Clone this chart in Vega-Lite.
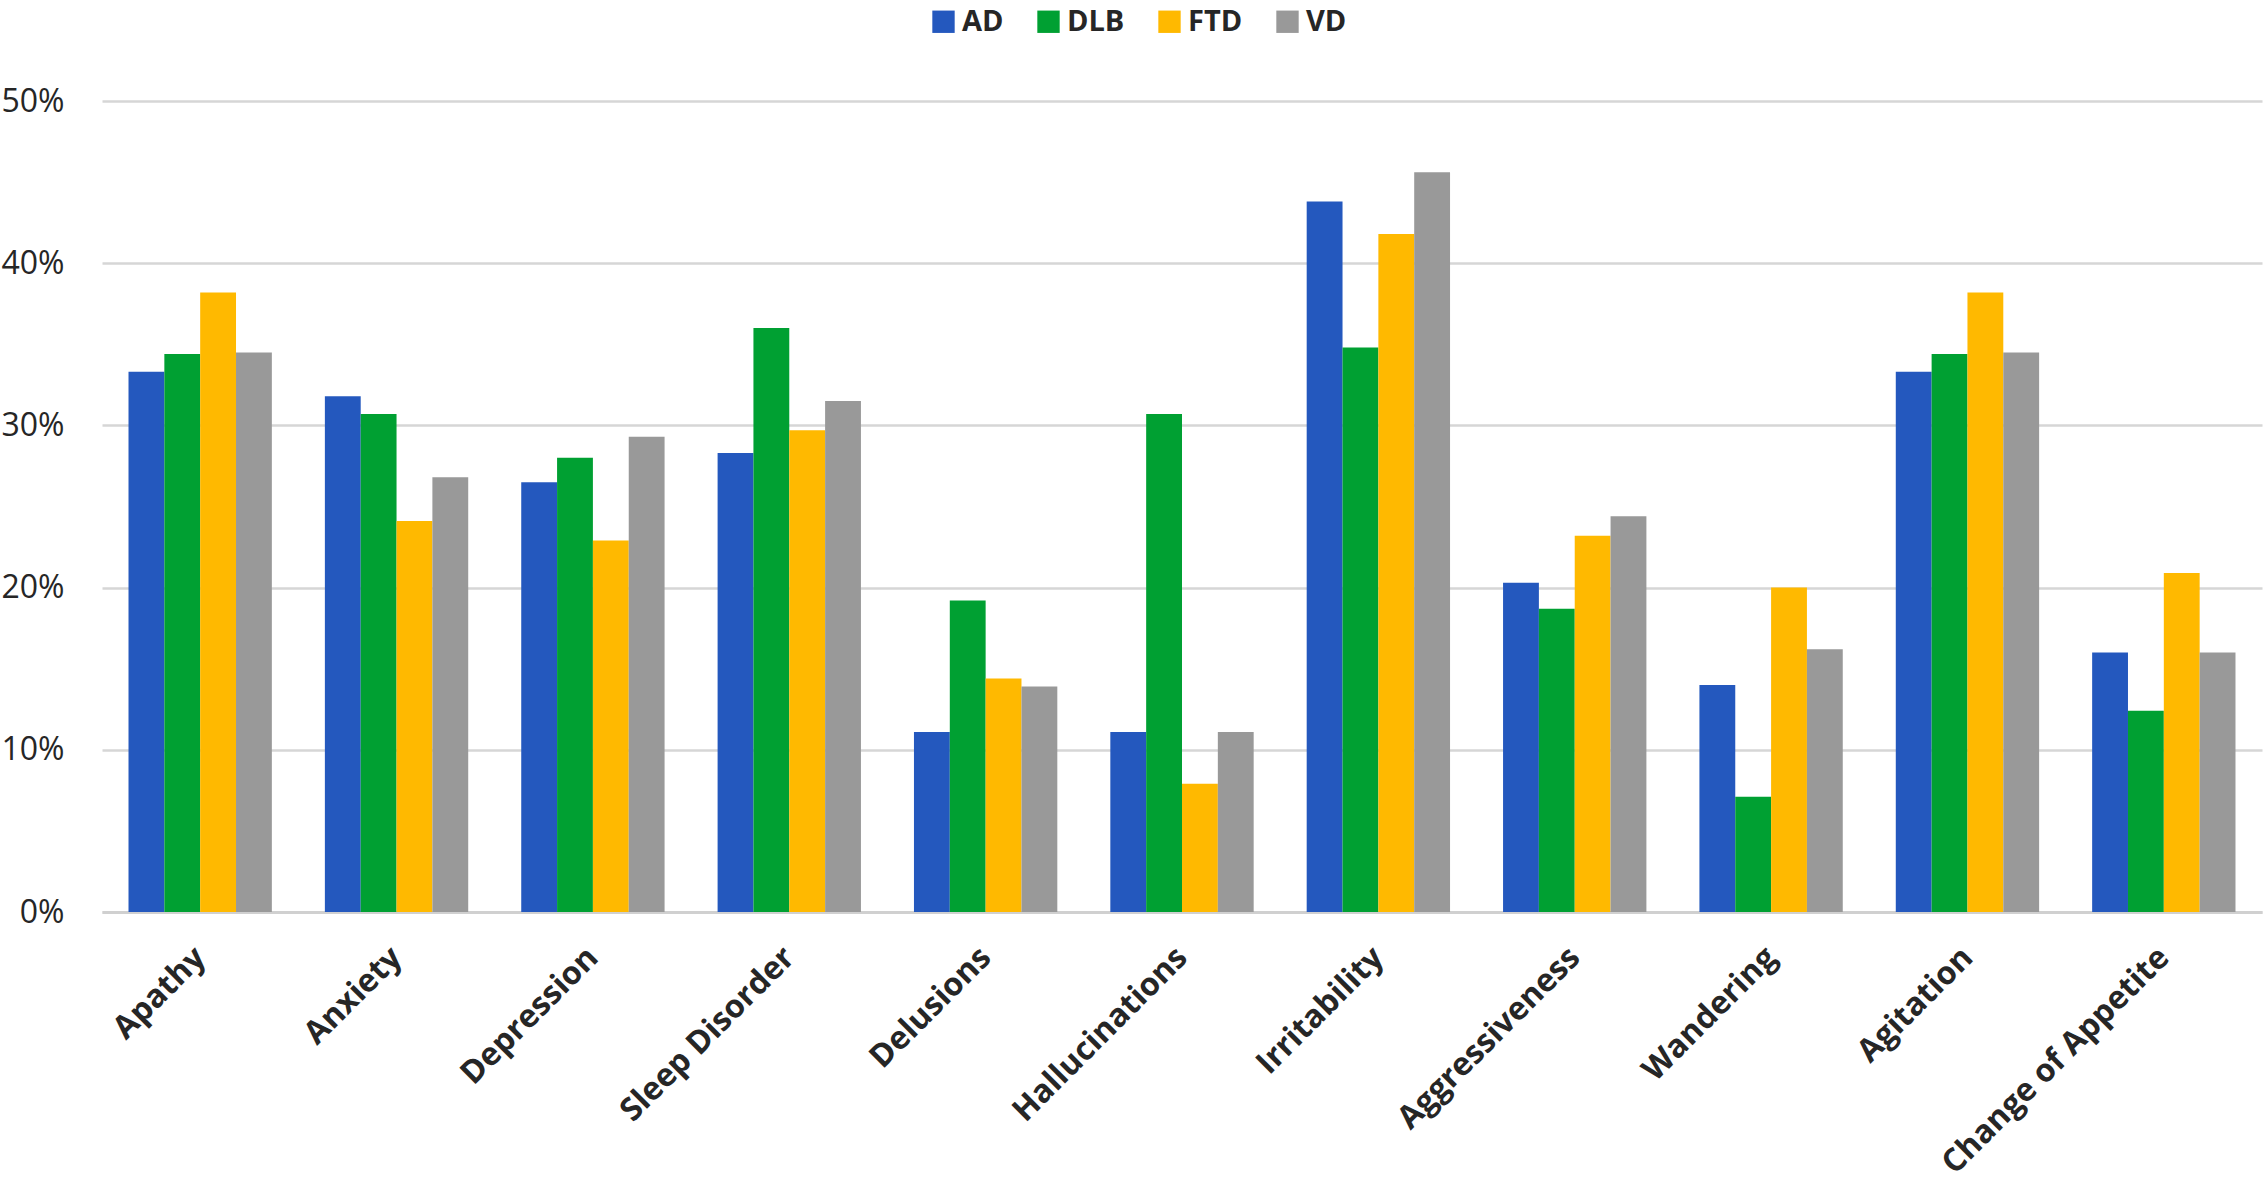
{
  "$schema": "https://vega.github.io/schema/vega-lite/v6.json",
  "width": 2264,
  "height": 1184,
  "autosize": {"type": "fit", "contains": "padding"},
  "padding": {"left": 0, "right": 2, "top": 85, "bottom": 4},
  "background": "white",
  "data": {"values": [
    {"symptom": "Apathy", "group": "AD", "pct": 33.3},
    {"symptom": "Apathy", "group": "DLB", "pct": 34.4},
    {"symptom": "Apathy", "group": "FTD", "pct": 38.2},
    {"symptom": "Apathy", "group": "VD", "pct": 34.5},
    {"symptom": "Anxiety", "group": "AD", "pct": 31.8},
    {"symptom": "Anxiety", "group": "DLB", "pct": 30.7},
    {"symptom": "Anxiety", "group": "FTD", "pct": 24.1},
    {"symptom": "Anxiety", "group": "VD", "pct": 26.8},
    {"symptom": "Depression", "group": "AD", "pct": 26.5},
    {"symptom": "Depression", "group": "DLB", "pct": 28.0},
    {"symptom": "Depression", "group": "FTD", "pct": 22.9},
    {"symptom": "Depression", "group": "VD", "pct": 29.3},
    {"symptom": "Sleep Disorder", "group": "AD", "pct": 28.3},
    {"symptom": "Sleep Disorder", "group": "DLB", "pct": 36.0},
    {"symptom": "Sleep Disorder", "group": "FTD", "pct": 29.7},
    {"symptom": "Sleep Disorder", "group": "VD", "pct": 31.5},
    {"symptom": "Delusions", "group": "AD", "pct": 11.1},
    {"symptom": "Delusions", "group": "DLB", "pct": 19.2},
    {"symptom": "Delusions", "group": "FTD", "pct": 14.4},
    {"symptom": "Delusions", "group": "VD", "pct": 13.9},
    {"symptom": "Hallucinations", "group": "AD", "pct": 11.1},
    {"symptom": "Hallucinations", "group": "DLB", "pct": 30.7},
    {"symptom": "Hallucinations", "group": "FTD", "pct": 7.9},
    {"symptom": "Hallucinations", "group": "VD", "pct": 11.1},
    {"symptom": "Irritability", "group": "AD", "pct": 43.8},
    {"symptom": "Irritability", "group": "DLB", "pct": 34.8},
    {"symptom": "Irritability", "group": "FTD", "pct": 41.8},
    {"symptom": "Irritability", "group": "VD", "pct": 45.6},
    {"symptom": "Aggressiveness", "group": "AD", "pct": 20.3},
    {"symptom": "Aggressiveness", "group": "DLB", "pct": 18.7},
    {"symptom": "Aggressiveness", "group": "FTD", "pct": 23.2},
    {"symptom": "Aggressiveness", "group": "VD", "pct": 24.4},
    {"symptom": "Wandering", "group": "AD", "pct": 14.0},
    {"symptom": "Wandering", "group": "DLB", "pct": 7.1},
    {"symptom": "Wandering", "group": "FTD", "pct": 20.0},
    {"symptom": "Wandering", "group": "VD", "pct": 16.2},
    {"symptom": "Agitation", "group": "AD", "pct": 33.3},
    {"symptom": "Agitation", "group": "DLB", "pct": 34.4},
    {"symptom": "Agitation", "group": "FTD", "pct": 38.2},
    {"symptom": "Agitation", "group": "VD", "pct": 34.5},
    {"symptom": "Change of Appetite", "group": "AD", "pct": 16.0},
    {"symptom": "Change of Appetite", "group": "DLB", "pct": 12.4},
    {"symptom": "Change of Appetite", "group": "FTD", "pct": 20.9},
    {"symptom": "Change of Appetite", "group": "VD", "pct": 16.0}
  ]},
  "mark": {"type": "bar"},
  "encoding": {
    "x": {
      "field": "symptom", "type": "nominal", "sort": null,
      "scale": {"paddingInner": 0.27, "paddingOuter": 0.135},
      "axis": {
        "title": null, "labelAngle": -45, "labelFont": "Open Sans", "labelFontWeight": "bold",
        "labelFontSize": 32, "labelColor": "#262626", "ticks": false, "domain": true,
        "domainColor": "#d0d0d0", "domainWidth": 3, "labelPadding": 40, "labelAlign": "right", "labelBaseline": "middle", "labelLimit": 0
      }
    },
    "xOffset": {"field": "group", "type": "nominal", "sort": ["AD", "DLB", "FTD", "VD"]},
    "y": {
      "field": "pct", "type": "quantitative",
      "scale": {"domain": [0, 50], "nice": false},
      "axis": {
        "title": null, "values": [0, 10, 20, 30, 40, 50], "labelExpr": "datum.value + '%'",
        "labelFont": "Open Sans", "labelFontSize": 32, "labelColor": "#262626",
        "ticks": false, "domain": false, "grid": true, "gridColor": "#d6d6d6", "gridWidth": 2.5,
        "labelPadding": 38
      }
    },
    "color": {
      "field": "group", "type": "nominal", "sort": ["AD", "DLB", "FTD", "VD"],
      "scale": {"domain": ["AD", "DLB", "FTD", "VD"], "range": ["#2458BE", "#00A032", "#FFB900", "#999999"]},
      "legend": {
        "title": null, "orient": "none", "legendX": 827, "legendY": -94, "direction": "horizontal", "symbolType": "square",
        "symbolSize": 500, "symbolStrokeWidth": 0, "symbolOpacity": 1,
        "labelFont": "Open Sans", "labelFontWeight": "bold", "labelFontSize": 29, "labelColor": "#262626",
        "columnPadding": 30
      }
    }
  },
  "config": {"view": {"stroke": null}}
}
